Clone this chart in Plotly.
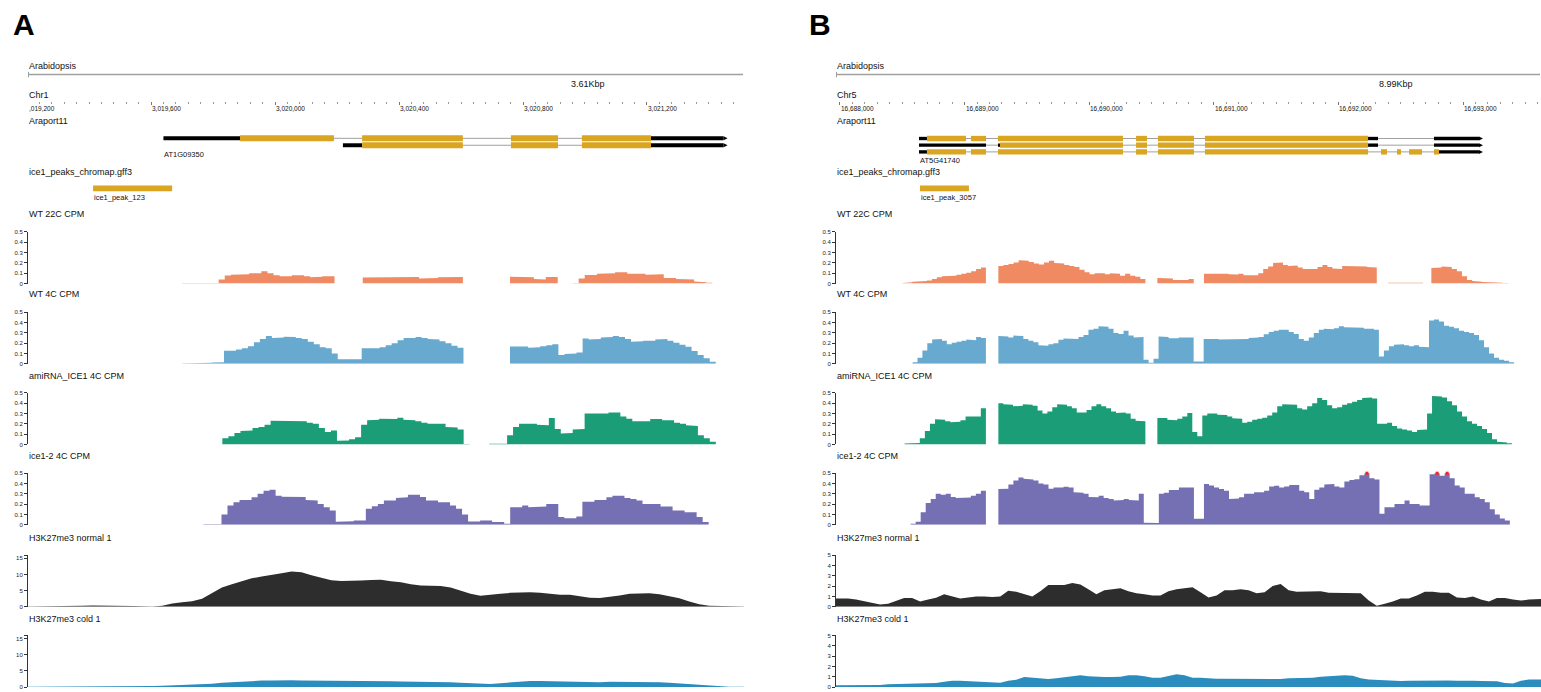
import numpy as np
import plotly.graph_objects as go

W, H = 1541, 692
FONT = "Liberation Sans, Arial, Helvetica, sans-serif"

# ---------------------------------------------------------------- windows
A_CHROM, B_CHROM = "Chr1", "Chr5"
A_START, A_END = 3019203, 3021513
B_START, B_END = 16687968, 16693626
A_SPAN_LABEL, B_SPAN_LABEL = "3.61Kbp", "8.99Kbp"
A_MAJOR, A_MINOR = 400, 40
B_MAJOR, B_MINOR = 1000, 100

# ---------------------------------------------------------------- gene models (Araport11)
A_GENE_NAME = "AT1G09350"
a_tx1_utr = [(3019640, 3019887), (3021213, 3021447)]
a_tx1_cds = [(3019887, 3020190), (3020281, 3020606), (3020761, 3020913), (3020990, 3021213)]
a_tx2_utr = [(3020219, 3020281), (3021213, 3021447)]
a_tx2_cds = [(3020281, 3020606), (3020761, 3020913), (3020990, 3021213)]

B_GENE_NAME = "AT5G41740"
b_tx1_utr = [(16688634, 16688698), (16692238, 16692318), (16692767, 16693128)]
b_tx1_cds = [(16688698, 16689011), (16689051, 16689172), (16689268, 16690271),
             (16690376, 16690464), (16690552, 16690841), (16690929, 16692238)]
b_tx2_utr = [(16688634, 16689172), (16689268, 16689284), (16692238, 16692318), (16692767, 16693128)]
b_tx2_cds = [(16689284, 16690271), (16690376, 16690464), (16690552, 16690841), (16690929, 16692238)]
b_tx3_utr = [(16688634, 16688698), (16692807, 16693128)]
b_tx3_cds = [(16688698, 16689011), (16689051, 16689172), (16689268, 16690271),
             (16690376, 16690464), (16690552, 16690841), (16690929, 16692238),
             (16692342, 16692390), (16692470, 16692502), (16692567, 16692671),
             (16692767, 16692807)]

# ---------------------------------------------------------------- ICE1 peaks
A_PEAK = (3019413, 3019668)
A_PEAK_NAME = "ice1_peak_123"
B_PEAK = (16688642, 16689035)
B_PEAK_NAME = "ice1_peak_3057"

# ---------------------------------------------------------------- coverage (CPM), segments of equal-width bins
a_wt22 = [
    (3019700, 3020192, [.006, .006, .006, .006, .006, .006, .04, .077, .085, .087, .09, .10, .10, .12, .10,
                        .08, .07, .07, .08, .08, .07, .06, .065, .07, .07]),
    (3020283, 3020606, [.058, .058, .058, .058, .058, .06, .058, .06, .063, .05, .05, .055, .06, .064, .064, .064]),
    (3020758, 3020912, [.067, .067, .067, .06, .045, .04, .064, .064]),
    (3020960, 3021411, [.006, .05, .083, .083, .096, .096, .10, .11, .11, .096, .096, .096, .085, .083, .09,
                        .055, .055, .045, .045, .04, .02, .013, .008]),
]
a_wt4 = [
    (3019700, 3020608, [.003, .005, .006, .008, .010, .013, .016, .128, .128, .14, .15, .17, .21, .24, .27, .25,
                        .256, .263, .26, .25, .24, .215, .19, .16, .15, .10, .045, .048, .05, .045, .15, .144,
                        .15, .16, .18, .20, .23, .25, .25, .26, .25, .24, .235, .22, .20, .175, .155]),
    (3020758, 3021422, [.167, .167, .167, .155, .16, .17, .18, .19, .085, .096, .10, .11, .245, .235, .24, .255,
                        .26, .27, .26, .24, .215, .22, .225, .225, .235, .24, .225, .205, .185, .165, .125, .085,
                        .055, .02]),
]
a_ami4 = [
    (3019830, 3020628, [.06, .08, .112, .13, .135, .16, .17, .19, .23, .23, .23, .224, .224, .224, .21, .20, .16,
                        .12, .135, .035, .038, .05, .07, .19, .234, .24, .25, .25, .247, .26, .24, .235, .224,
                        .21, .20, .20, .20, .17, .165, .144, .005]),
    (3020691, 3021422, [.006, .006, .006, .09, .17, .2, .2, .2, .19, .186, .256, .15, .106, .11, .144, .15, .30,
                        .295, .295, .30, .31, .31, .27, .25, .224, .224, .224, .247, .247, .234, .234, .21, .20,
                        .186, .18, .09, .06, .026]),
]
a_ice4 = [
    (3019769, 3021399, [.004, .004, .004, .10, .186, .218, .24, .24, .266, .30, .33, .34, .282, .272, .272, .272,
                        .268, .24, .234, .2, .17, .138, .03, .035, .035, .042, .042, .154, .18, .2, .234, .234,
                        .26, .266, .29, .29, .27, .234, .234, .218, .218, .186, .154, .10, .032, .032, .04, .04,
                        .026, .026, .01, .17, .17, .186, .17, .17, .176, .2, .2, .074, .064, .064, .08, .224,
                        .224, .24, .24, .266, .282, .282, .26, .25, .234, .2, .2, .2, .176, .176, .138, .138,
                        .122, .122, .074, .026]),
]
b_wt22 = [
    (16688501, 16689171, [.005, .012, .018, .022, .025, .03, .045, .06, .07, .07, .075, .085, .095, .105, .12,
                          .14, .155]),
    (16689271, 16690451, [.17, .18, .19, .205, .225, .22, .21, .195, .185, .205, .22, .2, .195, .18, .17, .16,
                          .135, .11, .09, .1, .1, .09, .1, .095, .075, .095, .075, .065, .045]),
    (16690547, 16690839, [.055, .055, .05, .035, .032, .035, .045]),
    (16690921, 16692308, [.095, .10, .10, .10, .095, .09, .087, .095, .08, .085, .08, .10, .14, .165, .2, .205,
                          .18, .17, .175, .155, .14, .14, .14, .16, .18, .16, .145, .14, .17, .165, .165, .17,
                          .165, .16, .155]),
    (16692398, 16692679, [.008, .01, .01, .01, .012, .01, .008]),
    (16692746, 16693360, [.15, .155, .165, .16, .14, .12, .07, .035, .025, .018, .015, .013, .01, .008, .006]),
]
b_wt4 = [
    (16688583, 16689171, [.015, .06, .13, .2, .235, .24, .225, .19, .205, .215, .225, .235, .23, .26, .25]),
    (16689271, 16693410, [.27, .265, .256, .275, .27, .24, .225, .21, .18, .175, .19, .2, .234, .245, .245, .24,
                          .26, .28, .33, .34, .365, .36, .34, .3, .29, .32, .275, .256, .26, .04, .01, .05,
                          .266, .26, .247, .247, .256, .256, .256, .022, .022, .24, .247, .24, .235, .234, .234,
                          .238, .24, .24, .25, .256, .26, .288, .31, .32, .33, .33, .31, .29, .24, .224, .256,
                          .3, .33, .34, .335, .345, .365, .355, .35, .355, .35, .34, .34, .33, .07, .13, .17,
                          .185, .19, .18, .17, .18, .165, .16, .42, .43, .41, .37, .36, .345, .32, .31, .3,
                          .28, .23, .16, .1, .06, .04, .03, .015]),
]
b_ami4 = [
    (16688518, 16689171, [.01, .01, .015, .06, .13, .2, .245, .24, .225, .215, .22, .235, .27, .265, .27, .35]),
    (16689271, 16690451, [.4, .39, .385, .37, .375, .39, .385, .375, .33, .3, .32, .36, .39, .385, .37, .35,
                          .31, .31, .335, .37, .39, .37, .35, .32, .305, .31, .3, .25, .23, .225]),
    (16690547, 16693393, [.256, .256, .24, .235, .25, .27, .305, .12, .08, .28, .3, .3, .288, .285, .27, .255,
                          .25, .21, .22, .24, .25, .26, .28, .31, .37, .39, .385, .385, .35, .34, .37, .4,
                          .45, .43, .38, .35, .36, .385, .4, .415, .43, .45, .455, .445, .2, .2, .21, .18,
                          .155, .145, .135, .12, .14, .145, .3, .47, .465, .455, .42, .38, .32, .27, .225,
                          .2, .18, .15, .11, .05, .025, .018, .012]),
]
b_ice4 = [
    (16688567, 16689171, [.01, .03, .12, .21, .25, .3, .29, .3, .27, .26, .265, .265, .28, .3, .33]),
    (16689271, 16693376, [.346, .35, .39, .43, .458, .445, .44, .43, .4, .39, .35, .36, .362, .368, .36, .314,
                          .31, .3, .27, .266, .282, .26, .25, .234, .24, .25, .24, .234, .3, .02, .016, .016,
                          .3, .31, .336, .336, .36, .36, .362, .058, .058, .394, .38, .36, .346, .33, .25,
                          .255, .266, .3, .3, .314, .314, .33, .37, .378, .362, .37, .385, .385, .33, .314,
                          .25, .34, .362, .39, .394, .37, .362, .42, .433, .442, .48, .505, .45, .44, .106,
                          .17, .17, .2, .2, .234, .2, .2, .186, .186, .49, .53, .474, .52, .45, .38, .362,
                          .3, .3, .266, .25, .218, .15, .1, .06, .04]),
]

# ---------------------------------------------------------------- H3K27me3 signal across the whole window
a_h3_normal = [0.1, 0.1, 0.2, 0.2, 0.3, 0.3, 0.4, 0.4, 0.4, 0.3, 0.2, 0.15, 0.1, 0.3, 1.0, 1.4, 1.7, 2.5, 4.2,
               6.0, 7.0, 8.0, 8.8, 9.4, 10.0, 10.4, 10.9, 10.7, 9.8, 9.0, 8.2, 8.0, 8.0, 8.1, 8.3, 8.4, 7.9,
               7.6, 7.0, 6.6, 6.5, 6.4, 6.0, 5.0, 4.0, 3.4, 3.6, 4.0, 4.3, 4.5, 4.5, 4.3, 4.0, 3.7, 3.7, 3.2,
               2.8, 2.7, 3.0, 3.5, 4.0, 4.2, 4.2, 3.9, 3.3, 2.6, 1.6, 0.8, 0.3, 0.2, 0.1, 0.1]
a_h3_cold = [0.1, 0.1, 0.1, 0.1, 0.15, 0.15, 0.15, 0.15, 0.2, 0.2, 0.2, 0.3, 0.3, 0.4, 0.5, 0.6, 0.7, 0.8, 1.0,
             1.3, 1.5, 1.7, 1.9, 2.0, 2.0, 2.1, 2.1, 2.0, 2.0, 1.9, 1.8, 1.8, 1.8, 1.8, 1.8, 1.8, 1.8, 1.7, 1.7,
             1.7, 1.7, 1.6, 1.5, 1.3, 1.1, 0.9, 0.9, 1.2, 1.5, 1.7, 1.9, 1.9, 1.8, 1.7, 1.7, 1.6, 1.5, 1.5,
             1.6, 1.6, 1.6, 1.6, 1.6, 1.5, 1.3, 1.1, 0.8, 0.5, 0.3, 0.2, 0.1, 0.1]
b_h3_normal = [0.8, 0.8, 0.7, 0.55, 0.35, 0.22, 0.3, 0.55, 0.85, 0.85, 0.5, 0.7, 0.87, 1.2, 1.0, 0.8, 0.9, 1.0,
               1.0, 0.95, 1.0, 1.55, 1.45, 1.2, 1.0, 1.5, 2.1, 2.1, 2.1, 2.3, 2.15, 1.7, 1.2, 1.6, 1.7, 1.8,
               1.5, 1.3, 1.2, 1.1, 1.1, 1.5, 1.7, 1.8, 1.9, 1.4, 0.9, 1.1, 1.6, 1.6, 1.7, 1.6, 1.3, 1.4, 2.0,
               2.2, 1.6, 1.45, 1.45, 1.5, 1.5, 1.35, 1.35, 1.35, 1.3, 1.3, 0.6, 0.1, 0.3, 0.5, 0.8, 0.8, 1.1,
               1.45, 1.45, 1.35, 1.35, 0.9, 0.85, 1.0, 0.7, 0.5, 0.85, 0.85, 0.7, 0.6, 0.7, 0.75]
b_h3_cold = [0.16, 0.16, 0.17, 0.18, 0.2, 0.2, 0.28, 0.3, 0.27, 0.27, 0.3, 0.33, 0.38, 0.5, 0.6, 0.6, 0.55,
             0.52, 0.45, 0.4, 0.42, 0.6, 0.7, 0.98, 0.93, 0.9, 0.78, 0.85, 0.93, 1.08, 1.15, 1.05, 0.98, 0.97,
             0.97, 1.0, 1.13, 1.13, 1.05, 0.9, 0.9, 1.1, 1.23, 1.15, 0.9, 0.9, 0.82, 0.8, 0.8, 0.8, 0.78, 0.74,
             0.74, 0.74, 0.74, 0.78, 0.84, 0.84, 0.84, 0.9, 1.0, 1.06, 1.13, 1.13, 1.1, 0.85, 0.74, 0.7, 0.6,
             0.58, 0.58, 0.6, 0.62, 0.64, 0.64, 0.64, 0.64, 0.62, 0.64, 0.62, 0.58, 0.58, 0.55, 0.4, 0.35, 0.6,
             0.74, 0.74]

CPM_NAMES = ["WT 22C CPM", "WT 4C CPM", "amiRNA_ICE1 4C CPM", "ice1-2 4C CPM"]
H3_NAMES = ["H3K27me3 normal 1", "H3K27me3 cold 1"]
CPM_COLORS = ["#ef8a62", "#67a9cf", "#1b9e77", "#7570b3"]
H3_COLORS = ["#2d2d2d", "#2b8cbe"]
CPM_MAX = 0.5

CDS_COLOR, UTR_COLOR, INTRON_COLOR = "#daa520", "#000000", "#a0a0a0"
AXIS_COLOR = "#333333"


# ---------------------------------------------------------------- helpers
def px_x(x):
    return x / W


def px_y(y):
    return 1 - y / H


def step_xy(start, end, vals):
    edges = np.linspace(start, end, len(vals) + 1)
    xs, ys = [], []
    for i, v in enumerate(vals):
        xs += [edges[i], edges[i + 1]]
        ys += [v, v]
    return xs, ys


def smooth_xy(start, end, vals):
    n = len(vals)
    w = (end - start) / n
    centers = start + w * (np.arange(n) + 0.5)
    return [start] + list(centers) + [end], [vals[0]] + list(vals) + [vals[-1]]


fig = go.Figure()
shapes, annotations = [], []
layout_axes = {}


def text(x, y, s, size=9, anchor="left", xref="paper", bold=False, color="#111111"):
    annotations.append(dict(
        x=px_x(x) if xref == "paper" else x, y=px_y(y), xref=xref, yref="paper",
        text=f"<b>{s}</b>" if bold else s, showarrow=False, xanchor=anchor, yanchor="middle",
        font=dict(size=size, color=color, family=FONT), borderpad=0))


def rect(xref, x0, x1, yc, h, color):
    shapes.append(dict(type="rect", xref=xref, yref="paper", x0=x0, x1=x1,
                       y0=px_y(yc + h / 2), y1=px_y(yc - h / 2),
                       fillcolor=color, line=dict(width=0), layer="above"))


def transcript(xref, yc, utrs, cds, cds_h):
    lo = min(s for s, _ in utrs + cds)
    hi = max(e for _, e in utrs + cds)
    shapes.append(dict(type="line", xref=xref, yref="paper", x0=lo, x1=hi, y0=px_y(yc), y1=px_y(yc),
                       line=dict(color=INTRON_COLOR, width=1), layer="above"))
    for s, e in utrs:
        rect(xref, s, e, yc, cds_h - 2, UTR_COLOR)
    for s, e in cds:
        rect(xref, s, e, yc, cds_h, CDS_COLOR)
    shapes.append(dict(type="path", xref=xref, yref="paper", xsizemode="pixel", ysizemode="pixel",
                       xanchor=hi, yanchor=px_y(yc), path="M 0 -2 L 4 0 L 0 2 Z",
                       fillcolor=UTR_COLOR, line=dict(width=0), layer="above"))


# vertical layout of the track stack: (label y, top y, baseline y)
TRACK_ROWS = [(213, 231, 283), (294, 312, 364), (376, 393.3, 445.3), (457, 474.3, 526.3),
              (540, 557, 609), (621, 638, 690)]

panels = [
    dict(letter="A", letter_x=12, xid="x", rid="y", left=28, right=744, start=A_START, end=A_END,
         chrom=A_CHROM, span=A_SPAN_LABEL, span_x=588, major=A_MAJOR, minor=A_MINOR,
         transcripts=[(a_tx1_utr, a_tx1_cds), (a_tx2_utr, a_tx2_cds)], tx_y=[136.5, 143.5], cds_h=6,
         gene=A_GENE_NAME, gene_y=153, peak=A_PEAK, peak_name=A_PEAK_NAME,
         cpm=[a_wt22, a_wt4, a_ami4, a_ice4], h3=[a_h3_normal, a_h3_cold],
         h3_max=16, h3_ticks=[0, 5, 10, 15, 16], h3_text=["0", "5", "10", "15", ""], first_axis=3),
    dict(letter="B", letter_x=808, xid="x2", rid="y2", left=836, right=1541, start=B_START, end=B_END,
         chrom=B_CHROM, span=B_SPAN_LABEL, span_x=1396, major=B_MAJOR, minor=B_MINOR,
         transcripts=[(b_tx1_utr, b_tx1_cds), (b_tx2_utr, b_tx2_cds), (b_tx3_utr, b_tx3_cds)],
         tx_y=[136.7, 143.4, 150.2], cds_h=5.4,
         gene=B_GENE_NAME, gene_y=158.5, peak=B_PEAK, peak_name=B_PEAK_NAME,
         cpm=[b_wt22, b_wt4, b_ami4, b_ice4], h3=[b_h3_normal, b_h3_cold],
         h3_max=5, h3_ticks=[0, 1, 2, 3, 4, 5], h3_text=["0", "1", "2", "3", "4", "5"], first_axis=9),
]

for p in panels:
    xid, left, right = p["xid"], p["left"], p["right"]
    start, end = p["start"], p["end"]
    xname = "xaxis" if xid == "x" else "xaxis2"
    rname = "yaxis" if p["rid"] == "y" else "yaxis2"

    # panel letter and overview line
    text(p["letter_x"], 22, p["letter"], size=30, bold=True, color="#000000")
    text(left, 64, "Arabidopsis")
    shapes.append(dict(type="line", xref="paper", yref="paper", x0=px_x(left), x1=px_x(right - 1),
                       y0=px_y(72), y1=px_y(72), line=dict(color="#a0a0a0", width=1.5)))
    shapes.append(dict(type="line", xref="paper", yref="paper", x0=px_x(left + 0.5), x1=px_x(left + 0.5),
                       y0=px_y(69.5), y1=px_y(75), line=dict(color="#a0a0a0", width=1)))
    text(p["span_x"], 81.5, p["span"], anchor="center")
    text(left, 92.7, p["chrom"])

    # coordinate ruler (its own thin subplot so the ticks sit under the chromosome name)
    first_major = (start // p["major"]) * p["major"]
    majors = np.arange(first_major, end + 1, p["major"])
    minors = np.arange((start // p["minor"] + 1) * p["minor"], end + 1, p["minor"])
    layout_axes[rname] = dict(domain=[px_y(98.5), px_y(92)], range=[0, 1], visible=False, anchor=xid,
                              fixedrange=True)
    layout_axes[xname] = dict(
        domain=[px_x(left), px_x(right)], range=[start, end], anchor=p["rid"],
        showline=False, showgrid=False, zeroline=False, showticklabels=False,
        ticks="outside", ticklen=3.5, tickwidth=1, tickcolor="#777777",
        tickvals=[m for m in majors if m >= start],
        minor=dict(tickvals=[m for m in minors if m % p["major"]], ticks="outside", ticklen=2,
                   tickwidth=1, tickcolor="#999999", showgrid=False),
        fixedrange=True)
    fig.add_trace(go.Scatter(x=[start, end], y=[0.5, 0.5], xaxis=xid, yaxis=p["rid"], mode="lines",
                             line=dict(width=0, color="rgba(0,0,0,0)"), hoverinfo="skip", showlegend=False))
    for m in majors:
        lab = f"{int(m):,}"
        if m >= start:
            text(m, 106.7, lab, size=6.5, xref=xid)
        elif start - m < 0.05 * p["major"]:
            # label of a tick just off the left edge, cut by the panel border
            text(left, 106.7, lab[1:], size=6.5)

    # gene models
    text(left, 119.3, "Araport11")
    for (utrs, cds), yc in zip(p["transcripts"], p["tx_y"]):
        transcript(xid, yc, utrs, cds, p["cds_h"])
    first_tx_start = min(s for s, _ in p["transcripts"][0][0] + p["transcripts"][0][1])
    text(first_tx_start, p["gene_y"], p["gene"], size=7.5, xref=xid)

    # peaks
    text(left, 170, "ice1_peaks_chromap.gff3")
    rect(xid, p["peak"][0], p["peak"][1], 187, 6, CDS_COLOR)
    text(p["peak"][0], 196.5, p["peak_name"], size=7.5, xref=xid)

    # quantitative tracks
    tracks = [(n, c, d, "cpm") for n, c, d in zip(CPM_NAMES, CPM_COLORS, p["cpm"])] + \
             [(n, c, d, "h3") for n, c, d in zip(H3_NAMES, H3_COLORS, p["h3"])]
    for i, ((name, color, data, kind), (ly, top, base)) in enumerate(zip(tracks, TRACK_ROWS)):
        ax_n = p["first_axis"] + i
        yid = f"y{ax_n}"
        text(left, ly, name)
        if kind == "cpm":
            ymax = CPM_MAX
            tv = [0, 0.1, 0.2, 0.3, 0.4, 0.5]
            tt = ["0", "0.1", "0.2", "0.3", "0.4", "0.5"]
            pieces = [step_xy(s, e, vals) for s, e, vals in data]
        else:
            ymax = p["h3_max"]
            tv, tt = p["h3_ticks"], p["h3_text"]
            pieces = [smooth_xy(start, end, data)]
        layout_axes[f"yaxis{ax_n}"] = dict(
            domain=[px_y(base), px_y(top)], range=[0, ymax], anchor=xid,
            showline=True, linecolor=AXIS_COLOR, linewidth=1,
            ticks="outside", ticklen=3, tickwidth=1, tickcolor=AXIS_COLOR,
            tickvals=tv, ticktext=tt, tickfont=dict(size=6, color="#222222", family=FONT),
            showgrid=False, zeroline=False, fixedrange=True)
        for xs, ys in pieces:
            fig.add_trace(go.Scatter(
                x=xs, y=ys, xaxis=xid, yaxis=yid, mode="lines", line=dict(width=0, color=color),
                fill="tozeroy", fillcolor=color, hoverinfo="skip", showlegend=False))
        if kind == "cpm":
            # clipped bins flagged in red at the top of the scale
            cx, cy = [], []
            for s, e, vals in data:
                edges = np.linspace(s, e, len(vals) + 1)
                for j, v in enumerate(vals):
                    if v > ymax:
                        cx.append((edges[j] + edges[j + 1]) / 2)
                        cy.append(ymax)
            if cx:
                fig.add_trace(go.Scatter(
                    x=cx, y=cy, xaxis=xid, yaxis=yid, mode="markers", cliponaxis=False,
                    marker=dict(symbol="square", size=3, color="#ff2020", line=dict(width=0)),
                    hoverinfo="skip", showlegend=False))

fig.update_layout(
    width=W, height=H, margin=dict(l=0, r=0, t=0, b=0),
    paper_bgcolor="white", plot_bgcolor="white", showlegend=False,
    font=dict(family=FONT, size=9, color="#111111"),
    shapes=shapes, annotations=annotations, **layout_axes)

fig.write_html("out.html")
